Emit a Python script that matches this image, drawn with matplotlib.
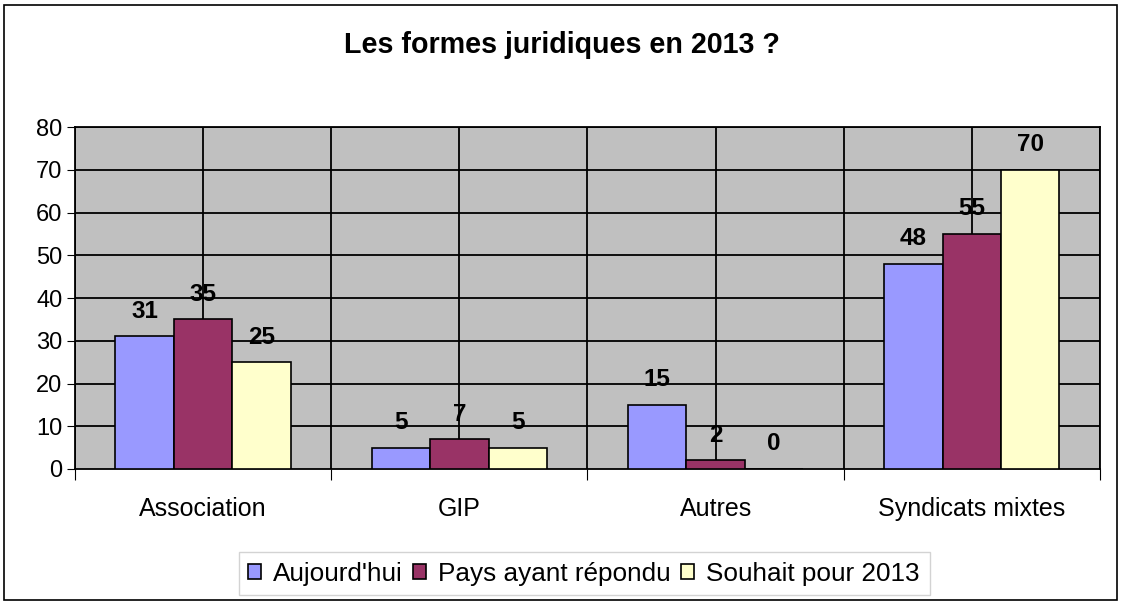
import matplotlib
matplotlib.use("Agg")
import matplotlib.pyplot as plt
import numpy as np
from matplotlib.patches import Rectangle

plt.rcParams['font.family'] = ['Liberation Sans', 'DejaVu Sans']

categories = ["Association", "GIP", "Autres", "Syndicats mixtes"]
series_names = ["Aujourd'hui", "Pays ayant répondu", "Souhait pour 2013"]
aujourdhui = [31, 5, 15, 48]
pays = [35, 7, 2, 55]
souhait = [25, 5, 0, 70]
colors = ["#9999FF", "#993366", "#FFFFCC"]

fig = plt.figure(figsize=(11.24, 6.05), dpi=100)
ax = fig.add_axes([0.0667, 0.2248, 0.9119, 0.5652])
ax.set_facecolor("#C0C0C0")

x = np.arange(len(categories))
w = 0.228
for i, (vals, name, col) in enumerate(zip([aujourdhui, pays, souhait], series_names, colors)):
    pos = x + (i - 1) * w
    ax.bar(pos, vals, w, color=col, edgecolor="black", linewidth=1.2, label=name, zorder=3)
    for p, v in zip(pos, vals):
        ax.annotate(str(v), (p, v), xytext=(0, 18), textcoords="offset points",
                    ha="center", va="center", fontsize=17.5, fontweight="bold", zorder=4)

ax.set_xlim(-0.5, len(categories) - 0.5)
ax.set_ylim(0, 80)
ax.set_yticks(range(0, 81, 10))
ax.tick_params(axis="y", labelsize=17, length=6, direction="out", pad=3)

# ticks at category boundaries, labels at centres
ax.set_xticks(np.arange(-0.5, len(categories), 1.0))
ax.set_xticklabels([])
ax.set_xticks(x, minor=True)
ax.set_xticklabels(categories, minor=True, fontsize=18)
ax.tick_params(axis="x", which="major", length=8, direction="out")
ax.tick_params(axis="x", which="minor", length=0, pad=20)

for yv in range(10, 81, 10):
    ax.axhline(yv, color="black", linewidth=1.3, zorder=1)
for xv in np.arange(-0.5, len(categories), 0.5):
    ax.axvline(xv, color="black", linewidth=1.3, zorder=1)
for s in ax.spines.values():
    s.set_color("black")
    s.set_linewidth(1.3)

fig.text(0.5, 0.925, "Les formes juridiques en 2013 ?", ha="center", va="center",
         fontsize=20.6, fontweight="bold")

leg = fig.legend(loc="center", bbox_to_anchor=(0.5196, 0.052), ncol=3, fontsize=18.8,
                 frameon=True, fancybox=False, edgecolor="#C8C8C8", handlelength=0.5,
                 handleheight=0.5, handletextpad=0.45, columnspacing=0.4, borderpad=0.38,
                 borderaxespad=0)

fig.patches.append(Rectangle((0.004, 0.008), 0.99, 0.984, transform=fig.transFigure,
                             fill=False, edgecolor="black", linewidth=1.2))

fig.savefig("out.png", dpi=100)
